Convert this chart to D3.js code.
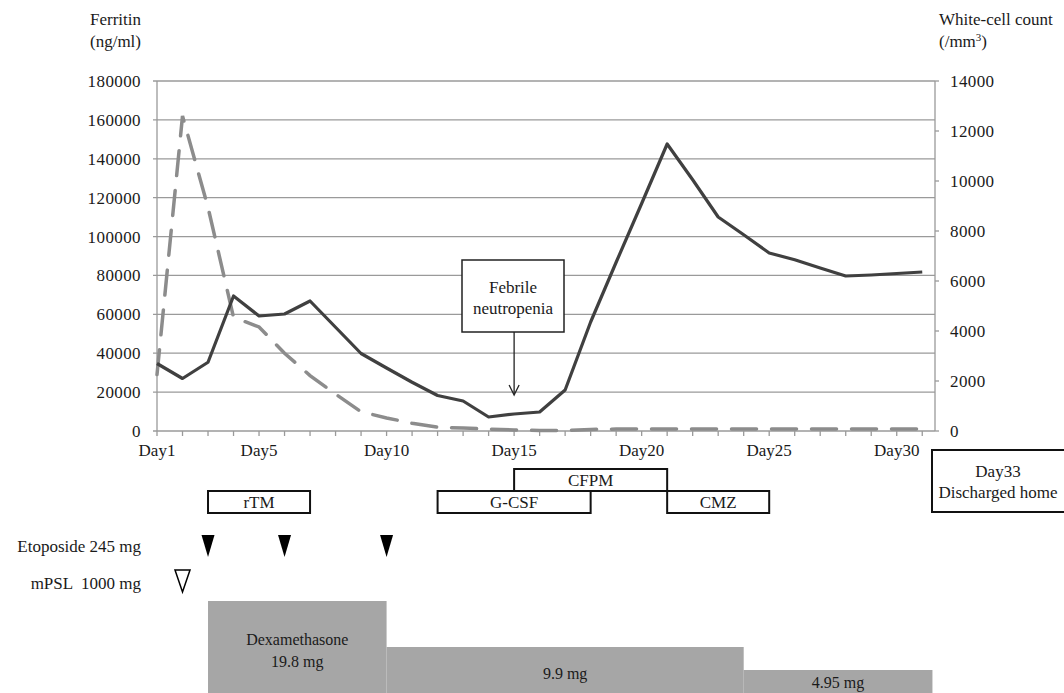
<!DOCTYPE html>
<html>
<head>
<meta charset="utf-8">
<script src="https://cdn.jsdelivr.net/npm/d3@7"></script>
<style>
  body { margin: 0; background: #fff; }
  text { font-family: "Liberation Serif", "Times New Roman", serif; fill: #1a1a1a; }
</style>
</head>
<body>
<div id="chart"></div>
<script>
// days on the category axis
var days = d3.range(1, 32);
var dayLabels = [1, 5, 10, 15, 20, 25, 30];

// ferritin (ng/ml), left axis, dashed line
var ferritin = [29000, 162000, 115000, 58500, 53500, 40000, 28500, 19000, 9900, 6700,
                4000, 2000, 1500, 1000, 500, 300, 300, 800, 1000, 1000,
                1000, 1000, 1000, 1000, 1000, 1000, 1000, 1000, 1000, 1000, 1000];

// white-cell count (/mm3), right axis, solid line
var wbc = [2700, 2100, 2750, 5400, 4600, 4680, 5200, 4150, 3100, 2520,
           1950, 1420, 1200, 560, 680, 760, 1640, 4360, 6750, 9100,
           11480, 10050, 8560, 7850, 7120, 6850, 6520, 6200, 6240, 6300, 6360];

var leftTicks = d3.range(0, 180001, 20000);
var rightTicks = d3.range(0, 14001, 2000);

// treatments shown as boxes under the axis
var treatNames = ["rTM", "G-CSF", "CFPM", "CMZ"];
var treatStart = [3, 12, 15, 21];
var treatEnd = [7, 18, 21, 25];
var treatRow = [1, 1, 0, 1];

var etoposideDays = [3, 6, 10];
var mpslDays = [2];

// dexamethasone steps
var dexStart = [3, 10, 24];
var dexEnd = [10, 24, 31.4];
var dexDose = [19.8, 9.9, 4.95];
var dexLabels = ["19.8 mg", "9.9 mg", "4.95 mg"];

var width = 1064, height = 693;
var margin = {top: 81, right: 129, bottom: 262, left: 157};
var fs = 17;

var svg = d3.select("#chart").append("svg").attr("width", width).attr("height", height);

var xScale = d3.scaleLinear().domain([1, 31.5]).range([margin.left, width - margin.right]);
var yLeft = d3.scaleLinear().domain([0, 180000]).range([height - margin.bottom, margin.top]);
var yRight = d3.scaleLinear().domain([0, 14000]).range([height - margin.bottom, margin.top]);
var y0 = yLeft(0);

// gridlines (with the little left ticks)
svg.append("g").selectAll("line").data(leftTicks).enter().append("line")
    .attr("x1", margin.left - 4).attr("x2", width - margin.right)
    .attr("y1", d => yLeft(d)).attr("y2", d => yLeft(d))
    .attr("stroke", "#9a9a9a").attr("stroke-width", 1.3);

// axis lines
svg.append("line").attr("x1", margin.left).attr("x2", margin.left)
    .attr("y1", margin.top).attr("y2", y0).attr("stroke", "#9a9a9a").attr("stroke-width", 1.3);
svg.append("line").attr("x1", width - margin.right).attr("x2", width - margin.right)
    .attr("y1", margin.top).attr("y2", y0).attr("stroke", "#9a9a9a").attr("stroke-width", 1.3);

// right ticks
svg.append("g").selectAll("line").data(rightTicks).enter().append("line")
    .attr("x1", width - margin.right).attr("x2", width - margin.right + 4)
    .attr("y1", d => yRight(d)).attr("y2", d => yRight(d))
    .attr("stroke", "#9a9a9a").attr("stroke-width", 1.3);

// day ticks
svg.append("g").selectAll("line").data(days).enter().append("line")
    .attr("x1", d => xScale(d)).attr("x2", d => xScale(d))
    .attr("y1", y0).attr("y2", y0 + 5)
    .attr("stroke", "#9a9a9a").attr("stroke-width", 1.3);

// tick labels
svg.append("g").selectAll("text").data(leftTicks).enter().append("text")
    .attr("x", margin.left - 16).attr("y", d => yLeft(d)).attr("dy", "0.35em")
    .attr("text-anchor", "end").attr("font-size", fs).attr("letter-spacing", 0.4)
    .text(d => d);

svg.append("g").selectAll("text").data(rightTicks).enter().append("text")
    .attr("x", width - margin.right + 15).attr("y", d => yRight(d)).attr("dy", "0.35em")
    .attr("font-size", fs).attr("letter-spacing", 0.4)
    .text(d => d);

svg.append("g").selectAll("text").data(dayLabels).enter().append("text")
    .attr("x", d => xScale(d)).attr("y", y0 + 25)
    .attr("text-anchor", "middle").attr("font-size", fs)
    .text(d => "Day" + d);

// axis titles
svg.append("text").attr("x", 141).attr("y", 25).attr("text-anchor", "end").attr("font-size", fs).text("Ferritin");
svg.append("text").attr("x", 141).attr("y", 47).attr("text-anchor", "end").attr("font-size", fs).text("(ng/ml)");
svg.append("text").attr("x", 939).attr("y", 25).attr("font-size", fs).text("White-cell count");
var t2 = svg.append("text").attr("x", 939).attr("y", 47).attr("font-size", fs);
t2.append("tspan").text("(/mm");
t2.append("tspan").attr("font-size", 11).attr("dy", -6).text("3");
t2.append("tspan").attr("dy", 6).text(")");

// lines
var lineL = d3.line().x((d, i) => xScale(days[i])).y(d => yLeft(d));
var lineR = d3.line().x((d, i) => xScale(days[i])).y(d => yRight(d));

svg.append("path").attr("d", lineL(ferritin))
    .attr("fill", "none").attr("stroke", "#8c8c8c").attr("stroke-width", 3.5)
    .attr("stroke-dasharray", "25,15").attr("stroke-linecap", "round");

svg.append("path").attr("d", lineR(wbc))
    .attr("fill", "none").attr("stroke", "#404040").attr("stroke-width", 3.2)
    .attr("stroke-linejoin", "round");

// febrile neutropenia callout
svg.append("rect").attr("x", 462).attr("y", 260).attr("width", 102).attr("height", 72)
    .attr("fill", "#fff").attr("stroke", "#222").attr("stroke-width", 1.5);
svg.append("text").attr("x", 513).attr("y", 293).attr("text-anchor", "middle").attr("font-size", fs).text("Febrile");
svg.append("text").attr("x", 513).attr("y", 314).attr("text-anchor", "middle").attr("font-size", fs).text("neutropenia");
svg.append("line").attr("x1", xScale(15)).attr("x2", xScale(15)).attr("y1", 332).attr("y2", 394)
    .attr("stroke", "#222").attr("stroke-width", 1.3);
svg.append("path")
    .attr("d", "M" + (xScale(15) - 5) + ",385L" + xScale(15) + ",395L" + (xScale(15) + 5) + ",385")
    .attr("fill", "none").attr("stroke", "#222").attr("stroke-width", 1.3);

// treatment boxes
var rowTop = [469, 491], rowH = 22;
treatNames.forEach(function(name, i) {
    var x1 = xScale(treatStart[i]), x2 = xScale(treatEnd[i]);
    svg.append("rect").attr("x", x1).attr("y", rowTop[treatRow[i]])
        .attr("width", x2 - x1).attr("height", rowH)
        .attr("fill", "#fff").attr("stroke", "#111").attr("stroke-width", 2);
    svg.append("text").attr("x", (x1 + x2) / 2).attr("y", rowTop[treatRow[i]] + 17)
        .attr("text-anchor", "middle").attr("font-size", fs).text(name);
});

// discharge box
svg.append("rect").attr("x", 932).attr("y", 450).attr("width", 140).attr("height", 62)
    .attr("fill", "#fff").attr("stroke", "#111").attr("stroke-width", 2);
svg.append("text").attr("x", 998).attr("y", 477).attr("text-anchor", "middle").attr("font-size", fs).text("Day33");
svg.append("text").attr("x", 998).attr("y", 498).attr("text-anchor", "middle").attr("font-size", fs).text("Discharged home");

// etoposide / mPSL markers
svg.append("text").attr("x", 141).attr("y", 552).attr("text-anchor", "end").attr("font-size", fs).text("Etoposide 245 mg");
svg.append("text").attr("x", 141).attr("y", 589).attr("text-anchor", "end").attr("font-size", fs)
    .style("white-space", "pre").text("mPSL  1000 mg");

svg.append("g").selectAll("path").data(etoposideDays).enter().append("path")
    .attr("d", d => "M" + (xScale(d) - 6.5) + ",535L" + (xScale(d) + 6.5) + ",535L" + xScale(d) + ",557Z")
    .attr("fill", "#000");

svg.append("g").selectAll("path").data(mpslDays).enter().append("path")
    .attr("d", d => "M" + (xScale(d) - 7.5) + ",570L" + (xScale(d) + 7.5) + ",570L" + xScale(d) + ",592Z")
    .attr("fill", "#fff").attr("stroke", "#000").attr("stroke-width", 1.5);

// dexamethasone steps, height by dose
var yDose = d3.scaleLinear().domain([0, 19.8]).range([height, 601]);
svg.append("g").selectAll("rect").data(dexDose).enter().append("rect")
    .attr("x", (d, i) => xScale(dexStart[i]))
    .attr("width", (d, i) => xScale(dexEnd[i]) - xScale(dexStart[i]))
    .attr("y", d => yDose(d)).attr("height", d => height - yDose(d))
    .attr("fill", "#a6a6a6");

svg.append("text").attr("x", (xScale(3) + xScale(10)) / 2).attr("y", 645)
    .attr("text-anchor", "middle").attr("font-size", 16).text("Dexamethasone");
svg.append("text").attr("x", (xScale(3) + xScale(10)) / 2).attr("y", 667)
    .attr("text-anchor", "middle").attr("font-size", 16).text(dexLabels[0]);
svg.append("text").attr("x", (xScale(10) + xScale(24)) / 2).attr("y", 679)
    .attr("text-anchor", "middle").attr("font-size", 16).text(dexLabels[1]);
svg.append("text").attr("x", (xScale(24) + xScale(31.4)) / 2).attr("y", 688)
    .attr("text-anchor", "middle").attr("font-size", 16).text(dexLabels[2]);
</script>
</body>
</html>
